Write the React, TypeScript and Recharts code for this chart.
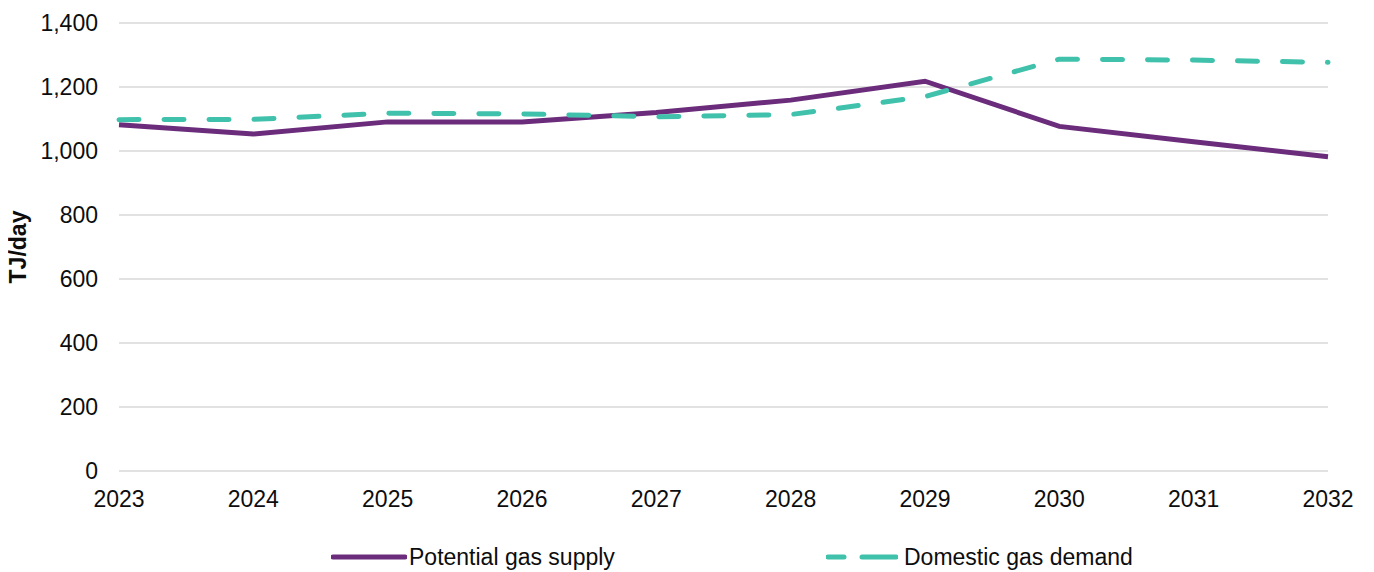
import { CartesianGrid, Legend, Line, LineChart, XAxis, YAxis } from "recharts";

// Years on the x axis
const years = ["2023", "2024", "2025", "2026", "2027", "2028", "2029", "2030", "2031", "2032"];
// TJ/day
const supply = [1082, 1053, 1091, 1091, 1120, 1159, 1218, 1077, 1029, 982];
const demand = [1098, 1099, 1118, 1116, 1107, 1114, 1170, 1287, 1284, 1277];
const yTicks = [0, 200, 400, 600, 800, 1000, 1200, 1400];

const PURPLE = "#6b2c7b";
const TEAL = "#40c1ac";
const TEXT = "#0d0d0d";
const FONT = "'Liberation Sans', Arial, sans-serif";
const FS = 23;

const data = years.map((y, i) => ({ year: y, supply: supply[i], demand: demand[i] }));

function LegendBox() {
  const item: React.CSSProperties = {
    position: "absolute",
    top: 34,
    height: 24,
    display: "flex",
    alignItems: "center",
    fontFamily: FONT,
    fontSize: FS,
    color: TEXT,
    lineHeight: "24px",
    whiteSpace: "nowrap",
  };
  return (
    <div style={{ position: "relative", height: 61, width: "100%" }}>
      <div style={{ ...item, left: 323 }}>
        <svg width={76} height={10}>
          <line x1={2} y1={5} x2={74} y2={5} stroke={PURPLE} strokeWidth={5} strokeLinecap="round" />
        </svg>
        <span style={{ marginLeft: 2 }}>Potential gas supply</span>
      </div>
      <div style={{ ...item, left: 818 }}>
        <svg width={72} height={10}>
          <line x1={2} y1={5} x2={18} y2={5} stroke={TEAL} strokeWidth={5} strokeLinecap="round" />
          <line x1={36} y1={5} x2={70} y2={5} stroke={TEAL} strokeWidth={5} strokeLinecap="round" />
        </svg>
        <span style={{ marginLeft: 6 }}>Domestic gas demand</span>
      </div>
    </div>
  );
}

export default function App() {
  // pulled 8px left so the y-axis title has room inside the svg
  return (
    <div style={{ width: 1374, height: 564, marginLeft: -8 }}>
      <LineChart
        width={1374}
        height={564}
        data={data}
        margin={{ top: 15, right: 46, left: 8, bottom: 0 }}
      >
        <CartesianGrid vertical={false} stroke="#d9d9d9" strokeWidth={1.5} />
        <XAxis
          dataKey="year"
          axisLine={false}
          tickLine={false}
          tickSize={8}
          tickMargin={12}
          height={40}
          interval={0}
          tick={{ fontSize: FS, fill: TEXT, fontFamily: FONT }}
        />
        <YAxis
          domain={[0, 1400]}
          ticks={yTicks}
          width={111}
          axisLine={false}
          tickLine={false}
          tickSize={8}
          tickMargin={13}
          tickFormatter={(v: number) => v.toLocaleString("en-US")}
          tick={{ fontSize: FS, fill: TEXT, fontFamily: FONT }}
          label={{
            content: ({ viewBox }: any) => {
              const cx = viewBox.x + 10;
              const cy = viewBox.y + viewBox.height / 2;
              return (
                <text
                  x={cx}
                  y={cy}
                  transform={`rotate(-90 ${cx} ${cy})`}
                  textAnchor="middle"
                  dominantBaseline="central"
                  fontFamily={FONT}
                  fontSize={FS}
                  fontWeight="bold"
                  fill={TEXT}
                >
                  TJ/day
                </text>
              );
            },
          }}
        />
        <Legend verticalAlign="bottom" content={() => <LegendBox />} />
        <Line
          dataKey="supply"
          name="Potential gas supply"
          type="linear"
          stroke={PURPLE}
          strokeWidth={5}
          dot={false}
          isAnimationActive={false}
        />
        <Line
          dataKey="demand"
          name="Domestic gas demand"
          type="linear"
          stroke={TEAL}
          strokeWidth={5}
          strokeDasharray="20 25"
          strokeLinecap="round"
          dot={false}
          isAnimationActive={false}
        />
      </LineChart>
    </div>
  );
}
